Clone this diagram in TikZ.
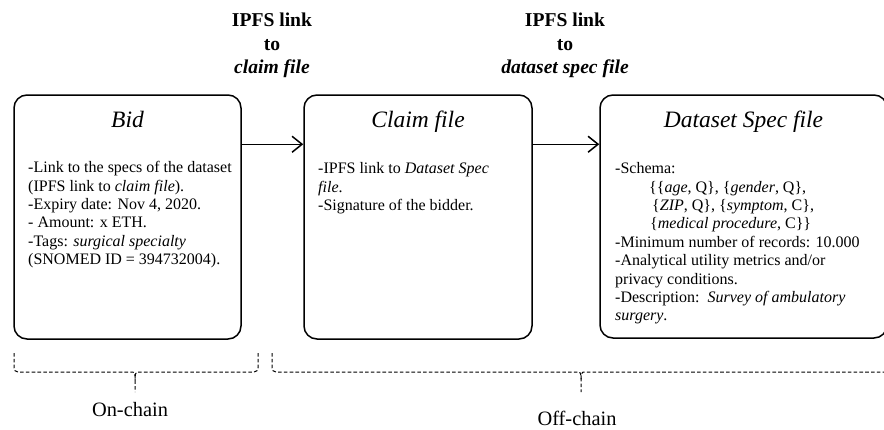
\documentclass[tikz,border=0pt]{standalone}
\usepackage{fontspec}
\setmainfont{Liberation Serif}
\usetikzlibrary{arrows.meta}

\tikzset{
  box/.style={draw, line width=1.5pt, rounded corners=13pt, inner sep=0pt},
  boxtitle/.style={anchor=base, inner sep=0pt, font=\fontsize{23.5}{28}\selectfont\itshape},
  boxbody/.style={anchor=north west, align=left, inner sep=0pt, font=\fontsize{16}{18.4}\selectfont},
  linklabel/.style={anchor=north, align=center, inner sep=0pt, font=\fontsize{19.6}{23.5}\selectfont\bfseries},
  link/.style={line width=1.5pt, -{Straight Barb[length=10pt,width=16pt]}},
  chainbrace/.style={line width=1pt, dash pattern=on 3.6pt off 2.2pt, rounded corners=4pt},
  chainlabel/.style={anchor=base, inner sep=0pt, font=\fontsize{20.4}{24}\selectfont}
}

\begin{document}
\begin{tikzpicture}[x=1pt, y=-1pt]
  \useasboundingbox (0,0) rectangle (884,429);
  \clip (0,0) rectangle (884,429);

  % the three records
  \node[box, minimum width=227pt, minimum height=244pt] (bid)   at (127.5,217)   {};
  \node[box, minimum width=228pt, minimum height=244pt] (claim) at (418,217)     {};
  \node[box, minimum width=287pt, minimum height=243pt] (spec)  at (743.5,216.5) {};

  % titles
  \node[boxtitle] (bidT)   at (127.5,127) {Bid};
  \node[boxtitle] (claimT) at (418,127)   {Claim file};
  \node[boxtitle] (specT)  at (743.5,127) {Dataset Spec file};

  % contents
  \node[boxbody] (bidB) at (28,161.3) {%
    -Link to the specs of the dataset\\
    (IPFS link to \textit{claim file}).\\
    -Expiry date: Nov 4, 2020.\\
    - Amount: x ETH.\\
    -Tags: \textit{surgical specialty}\\
    (SNOMED ID = 394732004).};

  \node[boxbody] (claimB) at (318,162.3) {%
    -IPFS link to \textit{Dataset Spec}\\
    \textit{file}.\\
    -Signature of the bidder.};

  \node[boxbody] (specB) at (615,162.3) {%
    -Schema:\\
    \hspace*{34pt}\{\{\textit{age}, Q\}, \{\textit{gender}, Q\},\\
    \hspace*{37pt}\{\textit{ZIP}, Q\}, \{\textit{symptom}, C\},\\
    \hspace*{35pt}\{\textit{medical procedure}, C\}\}\\
    -Minimum number of records: 10.000\\
    -Analytical utility metrics and/or\\
    privacy conditions.\\
    -Description:\ \ \textit{Survey of ambulatory}\\
    \textit{surgery}.};

  % links between the records
  \draw[link] ([yshift=-50pt]bid.north east) -- ([yshift=-50pt]claim.north west);
  \draw[link] ([yshift=-50pt]claim.north east) -- ([yshift=-50pt]spec.north west);

  \node[linklabel] (l1) at (272,12.7) {IPFS link\\to\\\textit{claim file}};
  \node[linklabel] (l2) at (565,12.7) {IPFS link\\to\\\textit{dataset spec file}};

  % on-chain brace
  \draw[chainbrace] (14,353) -- (14,372) -- (129,372)
    .. controls (134,372) and (135,374) .. (135,380) -- (135,392);
  \draw[chainbrace] (258,353) -- (258,372) -- (141,372)
    .. controls (136,372) and (135,374) .. (135,380);
  \node[chainlabel] (onchain) at (130,416) {On-chain};

  % off-chain brace
  \draw[chainbrace] (272,353) -- (272,372) -- (575,372)
    .. controls (580,372) and (581,374) .. (581,380) -- (581,392);
  \draw[chainbrace] (892,372) -- (587,372)
    .. controls (582,372) and (581,374) .. (581,380);
  \node[chainlabel] (offchain) at (577,425) {Off-chain};
\end{tikzpicture}
\end{document}
